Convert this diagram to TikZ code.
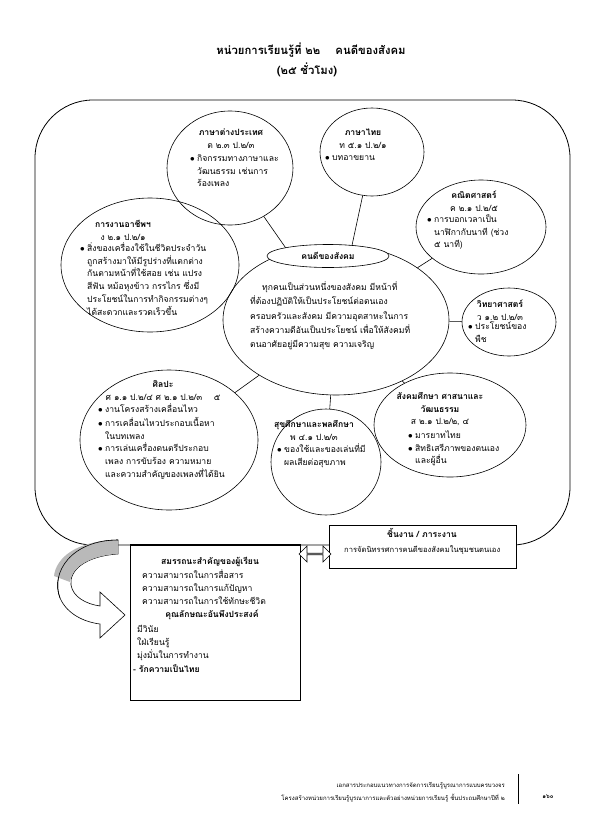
\documentclass[tikz,border=0pt]{standalone}
\usepackage{fontspec}
\setmainfont[Script=Thai]{Loma}
\usetikzlibrary{shapes.geometric,shapes.arrows}
\newcommand{\bul}{\makebox[7pt][l]{$\bullet$}}
\newcommand{\ind}{\hspace*{7pt}}
\begin{document}
\begin{tikzpicture}[x=1pt,y=-1pt,
  bub/.style={draw, ellipse, inner sep=0pt, line width=0.6pt},
  conn/.style={draw, line width=0.6pt},
  txt/.style={inner sep=0pt, align=left, font=\fontsize{8.6}{12.7}\selectfont},
  hd/.style={inner sep=0pt, align=center, font=\fontsize{8.6}{12.7}\selectfont},
  boxst/.style={draw, line width=0.6pt, fill=white},
  foot/.style={inner sep=0pt, align=right, font=\fontsize{6}{13}\selectfont}]
\useasboundingbox (0,0) rectangle (595,836);
% title
\node[inner sep=0pt, font=\fontsize{11.3}{14}\selectfont\bfseries] (title1) at (311,50) {หน่วยการเรียนรู้ที่ ๒๒ \quad คนดีของสังคม};
\node[inner sep=0pt, font=\fontsize{11.3}{14}\selectfont\bfseries] (title2) at (307,70) {(๒๕ ชั่วโมง)};
% frame
\draw[line width=0.8pt, rounded corners=58pt] (35,100) rectangle (570,545);
% bubbles
\node[bub, minimum width=226pt, minimum height=150pt] (mid) at (336,320) {};
\node[bub, minimum width=126pt, minimum height=114pt] (c1) at (230,168) {};
\node[bub, minimum width=104pt, minimum height=88pt] (c2) at (372,152) {};
\node[bub, minimum width=130pt, minimum height=94pt] (c3) at (481,227) {};
\node[bub, minimum width=178pt, minimum height=134pt] (c4) at (150,265) {};
\node[bub, minimum width=94pt, minimum height=68pt] (c5) at (509,322) {};
\node[bub, minimum width=178pt, minimum height=140pt] (c6) at (169,440) {};
\node[bub, minimum width=110pt, minimum height=106pt] (c7) at (326,462) {};
\node[bub, minimum width=152pt, minimum height=104pt] (c8) at (450,425) {};
\foreach \c in {c1,c2,c3,c4,c5,c6,c7,c8} \draw[conn] (mid) -- (\c);
\node[bub, fill=white, minimum width=122pt, minimum height=23pt] (midhead) at (328,256) {};
\node[inner sep=0pt, font=\fontsize{8.6}{12}\selectfont\bfseries] (midtitle) at (328,256) {คนดีของสังคม};
\node[anchor=north west, inner sep=0pt, align=left, font=\fontsize{8.6}{14.2}\selectfont] (body) at (250,280.5)
 {\strut\hspace*{12pt}ทุกคนเป็นส่วนหนึ่งของสังคม มีหน้าที่\\ที่ต้องปฏิบัติให้เป็นประโยชน์ต่อตนเอง\\ครอบครัวและสังคม มีความอุตสาหะในการ\\สร้างความดีอันเป็นประโยชน์ เพื่อให้สังคมที่\\ตนอาศัยอยู่มีความสุข ความเจริญ};
% c1
\node[hd, anchor=north] (h1) at (231,126.5) {\strut\textbf{ภาษาต่างประเทศ}\\ต ๒.๓ ป.๒/๓};
\node[txt, anchor=north west] (l1) at (190,152.5) {\strut\bul กิจกรรมทางภาษาและ\\ \ind วัฒนธรรม เช่นการ\\ \ind ร้องเพลง};
% c2
\node[hd, anchor=north] (h2) at (363,126.5) {\strut\textbf{ภาษาไทย}\\ท ๕.๑ ป.๒/๑};
\node[txt, anchor=north west] (l2) at (325,151.5) {\strut\bul บทอาขยาน};
% c3
\node[hd, anchor=north] (h3) at (474,189.5) {\strut\textbf{คณิตศาสตร์}\\ค ๒.๑ ป.๒/๕};
\node[txt, anchor=north west] (l3) at (427,213.5) {\strut\bul การบอกเวลาเป็น\\ \ind นาฬิกากับนาที (ช่วง\\ \ind ๕ นาที)};
% c4
\node[hd, anchor=north] (h4) at (123,218.5) {\strut\textbf{การงานอาชีพฯ}\\ง ๒.๑ ป.๒/๑};
\node[txt, anchor=north west] (l4) at (80,242.5) {\strut\bul สิ่งของเครื่องใช้ในชีวิตประจำวัน\\ \ind ถูกสร้างมาให้มีรูปร่างที่แตกต่าง\\ \ind กันตามหน้าที่ใช้สอย เช่น แปรง\\ \ind สีฟัน หม้อหุงข้าว กรรไกร ซึ่งมี\\ \ind ประโยชน์ในการทำกิจกรรมต่างๆ\\ \ind ได้สะดวกและรวดเร็วขึ้น};
% c5
\node[hd, anchor=north] (h5) at (500,298.5) {\strut\textbf{วิทยาศาสตร์}\\ว ๑.๒ ป.๒/๓};
\node[txt, anchor=north west] (l5) at (468,320.5) {\strut\bul ประโยชน์ของ\\ \ind พืช};
% c6
\node[hd, anchor=north] (h6) at (163,378.5) {\strut\textbf{ศิลปะ}\\ศ ๑.๑ ป.๒/๔ ศ ๒.๑ ป.๒/๓ \quad ๕};
\node[txt, anchor=north west] (l6) at (98,403.5) {\strut\bul งานโครงสร้างเคลื่อนไหว\\ \bul การเคลื่อนไหวประกอบเนื้อหา\\ \ind ในบทเพลง\\ \bul การเล่นเครื่องดนตรีประกอบ\\ \ind เพลง การขับร้อง ความหมาย\\ \ind และความสำคัญของเพลงที่ได้ยิน};
% c7
\node[hd, anchor=north] (h7) at (314,418.5) {\strut\textbf{สุขศึกษาและพลศึกษา}\\พ ๔.๑ ป.๒/๓};
\node[txt, anchor=north west] (l7) at (277,443.5) {\strut\bul ของใช้และของเล่นที่มี\\ \ind ผลเสียต่อสุขภาพ};
% c8
\node[hd, anchor=north] (h8) at (440,390.5) {\strut\textbf{สังคมศึกษา ศาสนาและ}\\ \textbf{วัฒนธรรม}\\ส ๒.๑ ป.๒/๒, ๔};
\node[txt, anchor=north west] (l8) at (408,429.5) {\strut\bul มารยาทไทย\\ \bul สิทธิเสรีภาพของตนเอง\\ \ind และผู้อื่น};
% right box
\node[boxst, rectangle, anchor=north west, minimum width=187pt, minimum height=43pt, inner sep=0pt] (work) at (329,525) {};
\node[inner sep=0pt, font=\fontsize{8.6}{12}\selectfont\bfseries] (workh) at (422,533) {ชิ้นงาน / ภาระงาน};
\node[inner sep=0pt, anchor=west, font=\fontsize{7.6}{12}\selectfont] (workt) at (344,550) {การจัดนิทรรศการคนดีของสังคมในชุมชนตนเอง};
% left box
\node[boxst, rectangle, anchor=north west, minimum width=170pt, minimum height=155pt, inner sep=0pt] (comp) at (130,545) {};
\draw[line width=1.2pt] (comp.north west) -- (comp.north east);
\node[inner sep=0pt, font=\fontsize{8.6}{12}\selectfont\bfseries] (comph) at (210,562) {สมรรถนะสำคัญของผู้เรียน};
\node[txt, anchor=north west, font=\fontsize{8.6}{13.4}\selectfont] (compl) at (142,568.5) {\strut ความสามารถในการสื่อสาร\\ความสามารถในการแก้ปัญหา\\ความสามารถในการใช้ทักษะชีวิต};
\node[inner sep=0pt, font=\fontsize{8.6}{12}\selectfont\bfseries] (charh) at (212,615) {คุณลักษณะอันพึงประสงค์};
\node[txt, anchor=north west, font=\fontsize{8.6}{13.4}\selectfont] (charl) at (137,622.5) {\strut มีวินัย\\ใฝ่เรียนรู้\\มุ่งมั่นในการทำงาน\\ \hspace*{-4pt}\textbf{- รักความเป็นไทย}};
% double arrow
\node[double arrow, draw, line width=0.6pt, fill=white, minimum height=32pt, minimum width=16pt, double arrow head extend=3pt, double arrow head indent=0pt, inner sep=0pt] (darr) at (315,554) {};
% curved arrow
\draw[line width=0.6pt, fill=white] (118,540) .. controls (72,540) and (50,572) .. (60,598) .. controls (67,614) and (84,622) .. (100,624)
  -- (100,638) -- (125,615) -- (100,592) -- (100,606)
  .. controls (86,604) and (73,597) .. (71,585) .. controls (69,570) and (86,556) .. (118,554) -- cycle;
\fill[gray!55] (118,540.3) .. controls (76,540.3) and (56,558) .. (54,576) -- (70,582) .. controls (71,568) and (88,556) .. (118,553.7) -- cycle;
\draw[line width=0.6pt] (118,540) .. controls (72,540) and (50,572) .. (60,598);
% footer
\node[foot, anchor=north east] (foot) at (505,778) {\strut เอกสารประกอบแนวทางการจัดการเรียนรู้บูรณาการแบบครบวงจร\\โครงสร้างหน่วยการเรียนรู้บูรณาการและตัวอย่างหน่วยการเรียนรู้ ชั้นประถมศึกษาปีที่ ๒};
\draw[line width=0.8pt] (518,774) -- (518,804);
\node[inner sep=0pt, font=\fontsize{6}{8}\selectfont\bfseries] (page) at (548,797) {๑๖๐};
\end{tikzpicture}
\end{document}
